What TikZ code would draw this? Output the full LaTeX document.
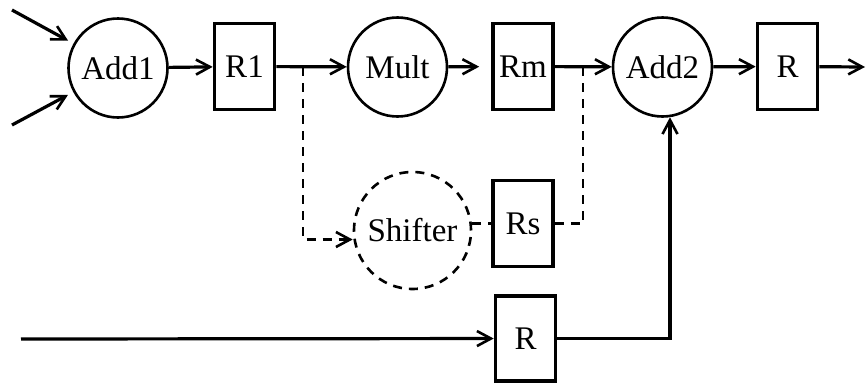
\documentclass[tikz,border=0pt]{standalone}
\usepackage{fontspec}
\setmainfont{Liberation Serif}
\usetikzlibrary{arrows.meta}

\begin{document}
\begin{tikzpicture}[x=1pt,y=-1pt,
    >={Straight Barb[length=14pt,width=15pt,line width=2.6pt]},
    wire/.style={line width=3.2pt},
    side/.style={line width=2.6pt,dash pattern=on 9pt off 7pt},
    op/.style={circle,draw,line width=2.6pt,minimum size=99pt,inner sep=0pt,
      font=\fontsize{33}{36}\selectfont},
    reg/.style={rectangle,draw,line width=3.6pt,minimum width=60pt,
      minimum height=86pt,inner sep=0pt,font=\fontsize{33}{36}\selectfont}]
  \useasboundingbox (0,0) rectangle (867,383);
  % main path
  \node[op] (add1) at (118,68) {Add1};
  \node[reg] (r1) at (244.5,66.5) {R1};
  \node[op] (mult) at (397.5,67) {Mult};
  \node[reg] (rm) at (523,66.5) {\raisebox{-7pt}{Rm}};
  \node[op] (add2) at (662.5,67) {Add2};
  \node[reg] (rout) at (787.5,66.5) {R};
  % shift path
  \node[op,side] (shifter) at (412.5,230.5) [minimum size=117pt] {Shifter};
  \node[reg] (rs) at (523,223.5) {\raisebox{-4pt}{Rs}};
  % bypass
  \node[reg] (rin) at (525.5,338.5) [minimum height=85pt] {\raisebox{-6pt}{R}};
  \coordinate (in1) at (12,10);
  \coordinate (in2) at (12,125);
  \coordinate (in3) at (21,339);
  \coordinate (out) at (865,67);
  \coordinate (split) at (303,67);
  \coordinate (merge) at (583,67);

  \draw[wire,->,shorten >=6pt] (in1) -- (add1);
  \draw[wire,->,shorten >=6pt] (in2) -- (add1);
  \draw[wire,->] (add1) -- (r1);
  \draw[wire,->] (r1) -- (mult);
  \draw[wire,->,shorten >=12pt] (mult) -- (rm);
  \draw[wire,->] (rm) -- (add2);
  \draw[wire,->] (add2) -- (rout);
  \draw[wire,->] (rout) -- (out);
  \draw[side,->] (split) |- ([yshift=-9pt]shifter.west);
  \draw[side] (shifter.east |- rs.west) -- (rs.west);
  \draw[side] (rs.east) -| (merge);
  \draw[wire,->] (in3) -- (rin);
  \draw[wire,->] (rin.east) -| ([xshift=7.5pt,yshift=0.5pt]add2.south);
\end{tikzpicture}
\end{document}
